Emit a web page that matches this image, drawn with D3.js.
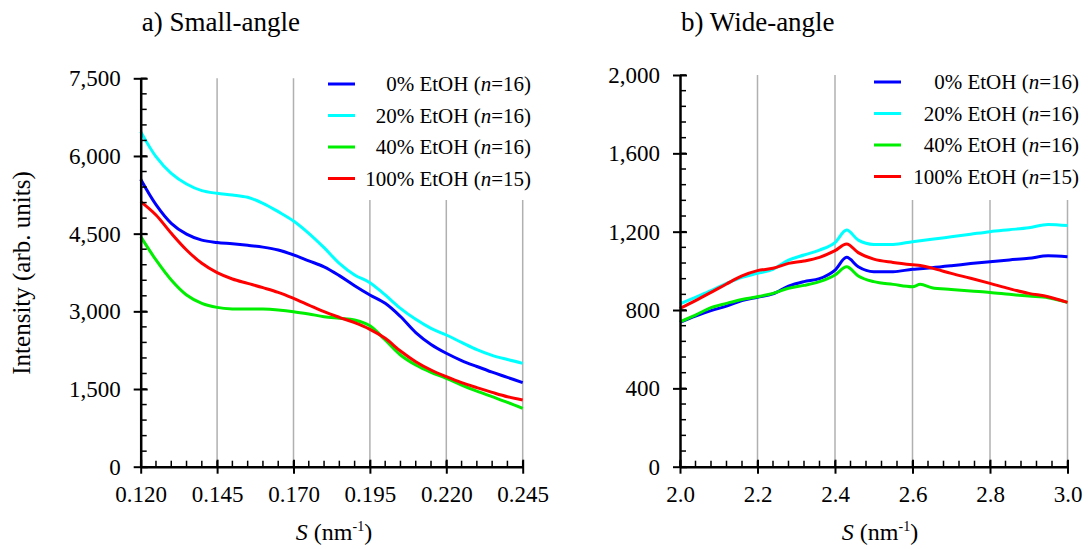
<!DOCTYPE html>
<html>
<head>
<meta charset="utf-8">
<script src="https://cdn.jsdelivr.net/npm/d3@7"></script>
</head>
<body style="margin:0">
<script>
var FONT = "'Liberation Serif'";

// series names + colours
var seriesNames = ["0% EtOH", "20% EtOH", "40% EtOH", "100% EtOH"];
var seriesN = [16, 16, 16, 15];
var seriesColors = ["#0000ff", "#00ffff", "#00ee00", "#ff0000"];

// small-angle data
var saxsS = [0.120, 0.125, 0.130, 0.135, 0.140, 0.145, 0.150, 0.155, 0.160, 0.165, 0.170, 0.175, 0.180,
  0.185, 0.190, 0.195, 0.200, 0.205, 0.210, 0.215, 0.220, 0.225, 0.230, 0.235, 0.240, 0.245];
var saxs0 = [5550, 5060, 4700, 4490, 4375, 4330, 4305, 4275, 4240, 4185, 4090, 3975, 3860,
  3690, 3495, 3316, 3155, 2900, 2590, 2360, 2190, 2050, 1935, 1825, 1725, 1622];
var saxs20 = [6470, 5987, 5665, 5459, 5330, 5279, 5247, 5202, 5086, 4925, 4745, 4507, 4230,
  3927, 3702, 3554, 3316, 3058, 2846, 2672, 2543, 2400, 2260, 2150, 2070, 1996];
var saxs40 = [4442, 3992, 3605, 3316, 3155, 3077, 3045, 3045, 3045, 3026, 2994, 2949, 2897,
  2865, 2833, 2720, 2446, 2157, 1964, 1822, 1706, 1577, 1461, 1352, 1243, 1127];
var saxs100 = [5118, 4860, 4507, 4185, 3927, 3747, 3625, 3541, 3457, 3367, 3251, 3122, 2994,
  2884, 2781, 2652, 2479, 2234, 2028, 1867, 1738, 1622, 1526, 1436, 1352, 1288];

// wide-angle data
var waxsS = [2.00, 2.04, 2.08, 2.12, 2.16, 2.20, 2.24, 2.28, 2.32, 2.36, 2.40, 2.43, 2.46, 2.50,
  2.55, 2.60, 2.62, 2.65, 2.70, 2.75, 2.80, 2.85, 2.90, 2.95, 3.00];
var waxs0 = [737, 769, 797, 820, 848, 865, 882, 922, 945, 960, 1004, 1069, 1021, 996,
  996, 1008, 1011, 1016, 1026, 1037, 1047, 1056, 1064, 1077, 1072];
var waxs20 = [831, 865, 899, 936, 967, 987, 1008, 1055, 1081, 1106, 1144, 1208, 1157, 1135,
  1135, 1149, 1154, 1161, 1174, 1187, 1200, 1210, 1220, 1237, 1231];
var waxs40 = [740, 774, 812, 834, 854, 868, 885, 911, 926, 945, 979, 1021, 974, 945,
  931, 919, 931, 914, 905, 897, 890, 880, 871, 863, 839];
var waxs100 = [808, 848, 890, 933, 974, 1001, 1013, 1038, 1050, 1069, 1103, 1137, 1093, 1060,
  1043, 1031, 1027, 1014, 987, 962, 936, 909, 885, 868, 839];

var saxsTicks = [0.120, 0.145, 0.170, 0.195, 0.220, 0.245];
var waxsTicks = [2.0, 2.2, 2.4, 2.6, 2.8, 3.0];
var saxsYTicks = [0, 1500, 3000, 4500, 6000, 7500];
var waxsYTicks = [0, 400, 800, 1200, 1600, 2000];

var svg = d3.select("body").append("svg")
  .attr("width", 1088)
  .attr("height", 549);

// every text gets the serif font set directly
function serif(sel) {
  return sel.attr("font-family", "Liberation Serif").style("font-family", FONT);
}

function drawPanel(cfg) {
  var x = d3.scaleLinear().domain(cfg.xDomain).range(cfg.xRange);
  var y = d3.scaleLinear().domain(cfg.yDomain).range(cfg.yRange);
  var g = svg.append("g");

  // vertical grid lines
  g.selectAll(".grid")
    .data(cfg.xTicks.slice(1))
    .enter().append("line")
    .attr("x1", d => x(d)).attr("x2", d => x(d))
    .attr("y1", y.range()[0]).attr("y2", y.range()[1])
    .attr("stroke", "#b0b0b0")
    .attr("stroke-width", 1.5);

  // series lines
  var line = d3.line()
    .x((d, i) => x(cfg.xs[i]))
    .y(d => y(d))
    .curve(cfg.curve);

  cfg.series.forEach(function(vals, i) {
    g.append("path")
      .datum(vals)
      .attr("fill", "none")
      .attr("stroke", seriesColors[i])
      .attr("stroke-width", 3)
      .attr("stroke-linejoin", "round")
      .attr("d", line);
  });

  // legend (white box hides the grid)
  var leg = g.append("g");
  leg.append("rect")
    .attr("x", cfg.legX - 8).attr("y", y.range()[1] - 6)
    .attr("width", cfg.legTextX - cfg.legX + 16).attr("height", 200 - y.range()[1] + 6)
    .attr("fill", "#fff");
  seriesNames.forEach(function(name, i) {
    var ly = cfg.legY + i * 31.5;
    leg.append("line")
      .attr("x1", cfg.legX).attr("x2", cfg.legX + 27)
      .attr("y1", ly).attr("y2", ly)
      .attr("stroke", seriesColors[i])
      .attr("stroke-width", 3);
    var t = serif(leg.append("text"))
      .attr("x", cfg.legTextX).attr("y", ly + 7)
      .attr("text-anchor", "end")
      .attr("font-size", "21px");
    t.append("tspan").text(name + " (");
    t.append("tspan").attr("font-style", "italic").text("n");
    t.append("tspan").text("=" + seriesN[i] + ")");
  });

  // minor ticks
  var xMinor = d3.range(cfg.xDomain[0], cfg.xDomain[1] + cfg.xMinorStep / 2, cfg.xMinorStep);
  var yMinor = d3.range(cfg.yDomain[0], cfg.yDomain[1] + cfg.yMinorStep / 2, cfg.yMinorStep);
  g.selectAll(".xminor").data(xMinor).enter().append("line")
    .attr("x1", d => x(d)).attr("x2", d => x(d))
    .attr("y1", y.range()[0]).attr("y2", y.range()[0] - 6)
    .attr("stroke", "#000").attr("stroke-width", 1.5);
  g.selectAll(".yminor").data(yMinor).enter().append("line")
    .attr("x1", x.range()[0]).attr("x2", x.range()[0] + 6)
    .attr("y1", d => y(d)).attr("y2", d => y(d))
    .attr("stroke", "#000").attr("stroke-width", 1.5);

  // axes
  var xAxis = d3.axisBottom(x).tickValues(cfg.xTicks).tickFormat(cfg.xFormat).tickSizeInner(7).tickSizeOuter(0).tickPadding(12);
  var gx = g.append("g")
    .attr("transform", "translate(0," + y.range()[0] + ")")
    .call(xAxis);
  var yAxis = d3.axisLeft(y).tickValues(cfg.yTicks).tickFormat(d3.format(",")).tickSizeInner(7).tickSizeOuter(0).tickPadding(13);
  var gy = g.append("g")
    .attr("transform", "translate(" + x.range()[0] + ",0)")
    .call(yAxis);
  [gx, gy].forEach(function(a) {
    serif(a).attr("font-size", "23px");
    a.select(".domain").attr("stroke", "#000").attr("stroke-width", 2.5);
    a.selectAll(".tick line").attr("stroke", "#000").attr("stroke-width", 2);
    serif(a.selectAll(".tick text")).attr("font-size", "23px").attr("fill", "#000");
  });
  // major ticks crossing the axis
  gx.selectAll(".tick line").attr("y1", -7).attr("y2", 7);
  gy.selectAll(".tick line").attr("x1", -7).attr("x2", 7);
  gx.selectAll(".tick text").attr("dy", "0.71em");

  // panel title
  serif(svg.append("text"))
    .attr("x", x.range()[0] + 1).attr("y", 31)
    .attr("font-size", "27px")
    .text(cfg.title);

  // x axis title
  var xt = serif(svg.append("text"))
    .attr("x", cfg.xTitleX).attr("y", 540)
    .attr("text-anchor", "middle")
    .attr("font-size", "24px");
  xt.append("tspan").attr("font-style", "italic").text("S");
  xt.append("tspan").text(" (nm");
  xt.append("tspan").attr("font-size", "14px").attr("dy", "-9").text("-1");
  xt.append("tspan").attr("dy", "9").text(")");
}

drawPanel({
  title: "a) Small-angle",
  xDomain: [0.120, 0.245], xRange: [140.7, 522.7],
  yDomain: [0, 7500], yRange: [466.7, 78.3],
  xTicks: saxsTicks, yTicks: saxsYTicks,
  xFormat: d3.format(".3f"),
  xMinorStep: 0.005, yMinorStep: 300,
  xs: saxsS,
  series: [saxs0, saxs20, saxs40, saxs100],
  curve: d3.curveCatmullRom.alpha(0.5),
  legX: 328, legTextX: 531, legY: 84,
  xTitleX: 334
});

drawPanel({
  title: "b) Wide-angle",
  xDomain: [2.0, 3.0], xRange: [680, 1067.5],
  yDomain: [0, 2000], yRange: [466.7, 75],
  xTicks: waxsTicks, yTicks: waxsYTicks,
  xFormat: d3.format(".1f"),
  xMinorStep: 0.04, yMinorStep: 80,
  xs: waxsS,
  series: [waxs0, waxs20, waxs40, waxs100],
  curve: d3.curveMonotoneX,
  legX: 874, legTextX: 1079, legY: 82,
  xTitleX: 880
});

// y axis title
serif(svg.append("text"))
  .attr("transform", "translate(30,273) rotate(-90)")
  .attr("text-anchor", "middle")
  .attr("font-size", "25px")
  .text("Intensity (arb. units)");
</script>
</body>
</html>
